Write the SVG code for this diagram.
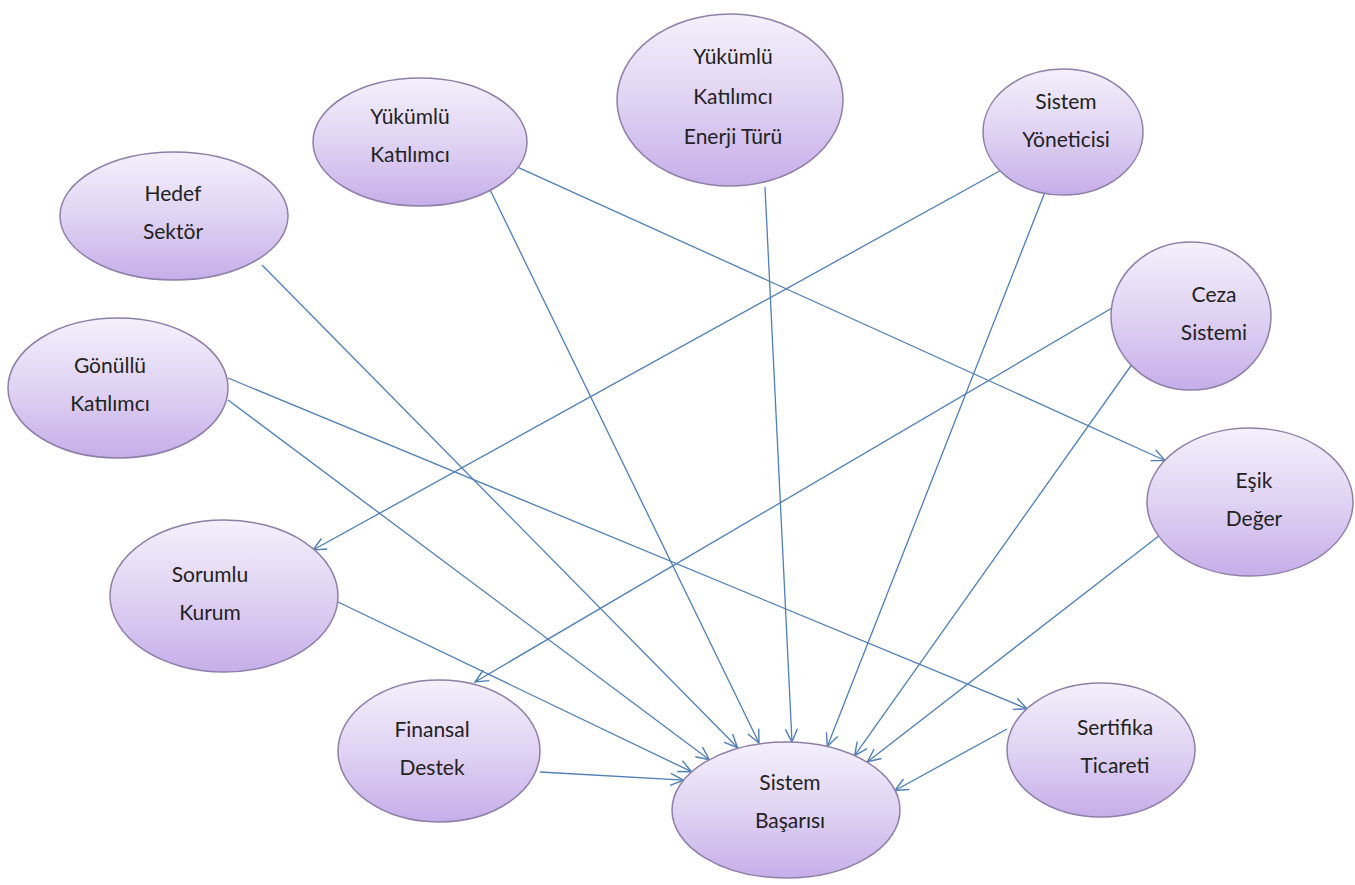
<svg xmlns="http://www.w3.org/2000/svg" width="1355" height="885" viewBox="0 0 1355 885">
<defs>
<linearGradient id="g" x1="0" y1="0" x2="0" y2="1">
<stop offset="0" stop-color="#f4f0fb"/>
<stop offset="0.5" stop-color="#e0d3f3"/>
<stop offset="1" stop-color="#c6aee9"/>
</linearGradient>
<marker id="arr" markerWidth="16" markerHeight="14" refX="14" refY="7" orient="auto" markerUnits="userSpaceOnUse">
<path d="M1,1 L14,7 L1,13" fill="none" stroke="#4f7fb5" stroke-width="1.4"/>
</marker>
</defs>
<style>
.n{fill:url(#g);stroke:#8e7fa8;stroke-width:1.5}
.t{font-family:Lato,"Open Sans",sans-serif;font-size:21px;fill:#222222;text-anchor:middle}
.e{stroke:#4f7fb5;stroke-width:1.3;fill:none;marker-end:url(#arr)}
</style>
<rect width="1355" height="885" fill="#ffffff"/>
<g id="connectors">
<line class="e" x1="262" y1="265" x2="737.5" y2="747.5"/>
<line class="e" x1="490.3" y1="190.3" x2="759" y2="743"/>
<line class="e" x1="765" y1="187" x2="792" y2="742"/>
<line class="e" x1="1045" y1="192" x2="827.3" y2="746.5"/>
<line class="e" x1="1135" y1="360" x2="854.6" y2="755.7"/>
<line class="e" x1="1160" y1="535" x2="867.5" y2="761.7"/>
<line class="e" x1="1007" y1="729" x2="895" y2="790.5"/>
<line class="e" x1="540" y1="772" x2="683.5" y2="780.2"/>
<line class="e" x1="338" y1="602" x2="691.5" y2="771.7"/>
<line class="e" x1="228" y1="400" x2="709.3" y2="759.7"/>
<line class="e" x1="518" y1="167.3" x2="1165" y2="460.5"/>
<line class="e" x1="1005" y1="168" x2="313" y2="550"/>
<line class="e" x1="1112" y1="308" x2="475" y2="682"/>
<line class="e" x1="228" y1="378" x2="1027" y2="708.8"/>
</g>
<g id="hedef-sektor"><ellipse class="n" cx="174" cy="216" rx="114" ry="64"/><text class="t" x="173" y="201">Hedef</text><text class="t" x="173" y="239">Sektör</text></g>
<g id="yukumlu-katilimci"><ellipse class="n" cx="420" cy="142" rx="107" ry="64"/><text class="t" x="410" y="124">Yükümlü</text><text class="t" x="410" y="162">Katılımcı</text></g>
<g id="enerji-turu"><ellipse class="n" cx="730" cy="100" rx="113" ry="86"/><text class="t" x="733" y="64">Yükümlü</text><text class="t" x="733" y="104">Katılımcı</text><text class="t" x="733" y="144">Enerji Türü</text></g>
<g id="sistem-yoneticisi"><ellipse class="n" cx="1063" cy="132" rx="80" ry="63"/><text class="t" x="1066" y="109">Sistem</text><text class="t" x="1066" y="147">Yöneticisi</text></g>
<g id="ceza-sistemi"><ellipse class="n" cx="1191" cy="316" rx="80" ry="74"/><text class="t" x="1214" y="302">Ceza</text><text class="t" x="1214" y="340">Sistemi</text></g>
<g id="gonullu-katilimci"><ellipse class="n" cx="118" cy="388" rx="110" ry="70"/><text class="t" x="110" y="373">Gönüllü</text><text class="t" x="110" y="411">Katılımcı</text></g>
<g id="esik-deger"><ellipse class="n" cx="1250" cy="502" rx="103" ry="74"/><text class="t" x="1254" y="488">Eşik</text><text class="t" x="1254" y="526">Değer</text></g>
<g id="sorumlu-kurum"><ellipse class="n" cx="224" cy="596" rx="114" ry="76"/><text class="t" x="210" y="582">Sorumlu</text><text class="t" x="210" y="620">Kurum</text></g>
<g id="finansal-destek"><ellipse class="n" cx="439" cy="751" rx="101" ry="71"/><text class="t" x="432" y="737">Finansal</text><text class="t" x="432" y="775">Destek</text></g>
<g id="sertifika-ticareti"><ellipse class="n" cx="1101" cy="750" rx="94" ry="67"/><text class="t" x="1115" y="735">Sertifika</text><text class="t" x="1115" y="773">Ticareti</text></g>
<g id="sistem-basarisi"><ellipse class="n" cx="786" cy="810" rx="114" ry="68"/><text class="t" x="790" y="790">Sistem</text><text class="t" x="790" y="828">Başarısı</text></g>
</svg>
